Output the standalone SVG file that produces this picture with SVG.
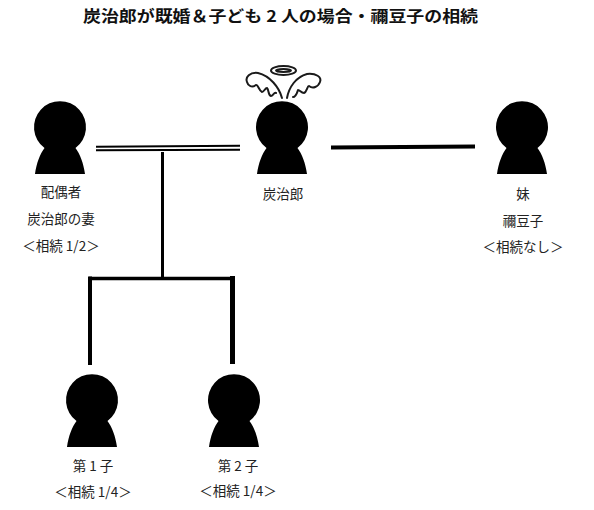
<svg xmlns="http://www.w3.org/2000/svg" width="594" height="510" viewBox="0 0 594 510">
<style>
text{font-family:"Noto Sans CJK JP","Noto Sans",sans-serif;fill:#222;font-size:13.500px;text-anchor:middle}
.t{font-size:15.500px;font-weight:700;fill:#111}
.c{stroke:#000;fill:none}
.w{fill:none;stroke:#1a1a1a;stroke-width:2;stroke-linecap:round;stroke-linejoin:round}
</style>
<defs>
<path id="p" d="M-15.500 147A26 26 0 1 1 15.500 147C20 153 23.500 162 25 173H-25C-23.500 162 -20 153 -15.500 147Z" transform="translate(0,-100)"/>
</defs>
<rect width="594" height="510" fill="#fff"/>
<text class="t" x="280.500" y="22" textLength="395" lengthAdjust="spacingAndGlyphs">炭治郎が既婚＆子ども 2 人の場合・禰豆子の相続</text>
<g id="connectors">
<path class="c" stroke-width="2" d="M96 146.800L240 145.800M96 150.300L240 149.800"/>
<path class="c" stroke-width="3" d="M162.500 152V278"/>
<path class="c" stroke-width="3.500" d="M89 278.500H233"/>
<path class="c" stroke-width="4" d="M90 276.500V365"/>
<path class="c" stroke-width="5" d="M232.500 276V364"/>
<path class="c" stroke-width="4" d="M331 147.400L475 146.600"/>
</g>
<g id="spouse"><use href="#p" transform="translate(60,101)"/>
<text x="61" y="197">配偶者</text><text x="61" y="224">炭治郎の妻</text><text x="61" y="251">＜相続 1/2＞</text></g>
<g id="tanjiro"><use href="#p" transform="translate(282,101)"/>
<text x="283" y="199">炭治郎</text>
<g id="halo-wings">
<ellipse class="w" cx="283.500" cy="70.500" rx="12.500" ry="4.500"/><ellipse class="w" cx="283.500" cy="70.500" rx="7.500" ry="1.500" stroke-width="1.500"/>
<path class="w" d="M282 98C279 87 270 76 258 73C250 72 245 77 247 82C248 86 252 88 256 85C258 84 259 91 262 92C264 92 265 88 267 88C269 90 268 95 271 96C273 96 274 92 276 93"/>
<path class="w" d="M287 98C289 87 296 77 307 74C316 73 322 77 320 82C318 87 313 89 309 86C307 86 307 92 304 93C301 93 300 90 298 90C297 93 296 97 293 97"/>
</g></g>
<g id="sister"><use href="#p" transform="translate(522,101)"/>
<text x="523" y="199">妹</text><text x="523" y="226">禰豆子</text><text x="523" y="252">＜相続なし＞</text></g>
<g id="child1"><use href="#p" transform="translate(92,374)"/>
<text x="93" y="471">第 1 子</text><text x="93" y="497">＜相続 1/4＞</text></g>
<g id="child2"><use href="#p" transform="translate(234,374)"/>
<text x="238" y="471">第 2 子</text><text x="238" y="496">＜相続 1/4＞</text></g>
</svg>
